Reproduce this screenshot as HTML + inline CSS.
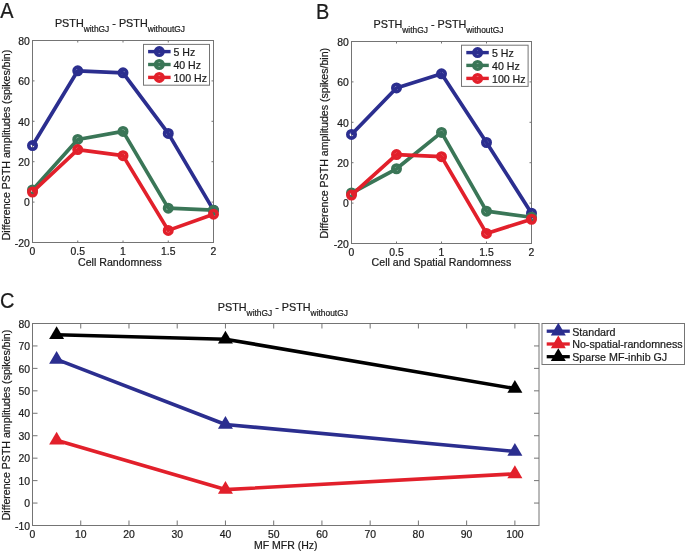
<!DOCTYPE html>
<html><head><meta charset="utf-8"><title>PSTH figure</title>
<style>
html,body{margin:0;padding:0;background:#ffffff;}
body{width:685px;height:554px;overflow:hidden;font-family:"Liberation Sans", sans-serif;}
svg{display:block;will-change:transform;}
text{stroke:#1c1c1c;stroke-width:0.22px;}
</style></head><body>
<svg width="685" height="554" viewBox="0 0 685 554" font-family='"Liberation Sans", sans-serif' fill="#1c1c1c">
<rect width="685" height="554" fill="#ffffff"/>
<text transform="translate(0.2,17.7) scale(0.94,1)" font-size="21.2">A</text>
<text x="54.9" y="27.2" font-size="10.8">PSTH<tspan font-size="8.4" dy="5.2">withGJ</tspan><tspan dy="-5.2" font-size="10.8"> - PSTH</tspan><tspan font-size="8.4" dy="5.2">withoutGJ</tspan></text>
<rect x="32.5" y="40.5" width="181" height="202" fill="none" stroke="#747474" stroke-width="1"/>
<line x1="32.5" y1="242.5" x2="32.5" y2="240.5" stroke="#747474" stroke-width="1"/>
<line x1="32.5" y1="40.5" x2="32.5" y2="42.5" stroke="#747474" stroke-width="1"/>
<line x1="77.75" y1="242.5" x2="77.75" y2="240.5" stroke="#747474" stroke-width="1"/>
<line x1="77.75" y1="40.5" x2="77.75" y2="42.5" stroke="#747474" stroke-width="1"/>
<line x1="123" y1="242.5" x2="123" y2="240.5" stroke="#747474" stroke-width="1"/>
<line x1="123" y1="40.5" x2="123" y2="42.5" stroke="#747474" stroke-width="1"/>
<line x1="168.25" y1="242.5" x2="168.25" y2="240.5" stroke="#747474" stroke-width="1"/>
<line x1="168.25" y1="40.5" x2="168.25" y2="42.5" stroke="#747474" stroke-width="1"/>
<line x1="213.5" y1="242.5" x2="213.5" y2="240.5" stroke="#747474" stroke-width="1"/>
<line x1="213.5" y1="40.5" x2="213.5" y2="42.5" stroke="#747474" stroke-width="1"/>
<line x1="32.5" y1="242.5" x2="34.5" y2="242.5" stroke="#747474" stroke-width="1"/>
<line x1="213.5" y1="242.5" x2="211.5" y2="242.5" stroke="#747474" stroke-width="1"/>
<line x1="32.5" y1="202.1" x2="34.5" y2="202.1" stroke="#747474" stroke-width="1"/>
<line x1="213.5" y1="202.1" x2="211.5" y2="202.1" stroke="#747474" stroke-width="1"/>
<line x1="32.5" y1="161.7" x2="34.5" y2="161.7" stroke="#747474" stroke-width="1"/>
<line x1="213.5" y1="161.7" x2="211.5" y2="161.7" stroke="#747474" stroke-width="1"/>
<line x1="32.5" y1="121.3" x2="34.5" y2="121.3" stroke="#747474" stroke-width="1"/>
<line x1="213.5" y1="121.3" x2="211.5" y2="121.3" stroke="#747474" stroke-width="1"/>
<line x1="32.5" y1="80.9" x2="34.5" y2="80.9" stroke="#747474" stroke-width="1"/>
<line x1="213.5" y1="80.9" x2="211.5" y2="80.9" stroke="#747474" stroke-width="1"/>
<line x1="32.5" y1="40.5" x2="34.5" y2="40.5" stroke="#747474" stroke-width="1"/>
<line x1="213.5" y1="40.5" x2="211.5" y2="40.5" stroke="#747474" stroke-width="1"/>
<text x="32.5" y="254.8" text-anchor="middle" font-size="10.4">0</text>
<text x="77.75" y="254.8" text-anchor="middle" font-size="10.4">0.5</text>
<text x="123" y="254.8" text-anchor="middle" font-size="10.4">1</text>
<text x="168.25" y="254.8" text-anchor="middle" font-size="10.4">1.5</text>
<text x="213.5" y="254.8" text-anchor="middle" font-size="10.4">2</text>
<text x="29.9" y="246.7" text-anchor="end" font-size="10.4">-20</text>
<text x="29.9" y="206.3" text-anchor="end" font-size="10.4">0</text>
<text x="29.9" y="165.9" text-anchor="end" font-size="10.4">20</text>
<text x="29.9" y="125.5" text-anchor="end" font-size="10.4">40</text>
<text x="29.9" y="85.1" text-anchor="end" font-size="10.4">60</text>
<text x="29.9" y="44.7" text-anchor="end" font-size="10.4">80</text>
<text transform="translate(9.8,145.0) rotate(-90)" text-anchor="middle" font-size="10.6">Difference PSTH amplitudes (spikes/bin)</text>
<text x="119.9" y="265.5" text-anchor="middle" font-size="10.6">Cell Randomness</text>
<polyline points="32.5,145.54 77.75,70.8 123,72.82 168.25,133.42 213.5,210.18" fill="none" stroke="#2b2e8f" stroke-width="3.7" stroke-linejoin="round" stroke-linecap="butt"/>
<circle cx="32.5" cy="145.54" r="3.7" fill="none" stroke="#2b2e8f" stroke-width="3.6"/>
<circle cx="77.75" cy="70.8" r="3.7" fill="none" stroke="#2b2e8f" stroke-width="3.6"/>
<circle cx="123" cy="72.82" r="3.7" fill="none" stroke="#2b2e8f" stroke-width="3.6"/>
<circle cx="168.25" cy="133.42" r="3.7" fill="none" stroke="#2b2e8f" stroke-width="3.6"/>
<circle cx="213.5" cy="210.18" r="3.7" fill="none" stroke="#2b2e8f" stroke-width="3.6"/>
<polyline points="32.5,189.98 77.75,139.48 123,131.4 168.25,208.16 213.5,210.18" fill="none" stroke="#3a7657" stroke-width="3.7" stroke-linejoin="round" stroke-linecap="butt"/>
<circle cx="32.5" cy="189.98" r="3.7" fill="none" stroke="#3a7657" stroke-width="3.6"/>
<circle cx="77.75" cy="139.48" r="3.7" fill="none" stroke="#3a7657" stroke-width="3.6"/>
<circle cx="123" cy="131.4" r="3.7" fill="none" stroke="#3a7657" stroke-width="3.6"/>
<circle cx="168.25" cy="208.16" r="3.7" fill="none" stroke="#3a7657" stroke-width="3.6"/>
<circle cx="213.5" cy="210.18" r="3.7" fill="none" stroke="#3a7657" stroke-width="3.6"/>
<polyline points="32.5,192 77.75,149.58 123,155.64 168.25,230.38 213.5,214.22" fill="none" stroke="#e2202b" stroke-width="3.7" stroke-linejoin="round" stroke-linecap="butt"/>
<circle cx="32.5" cy="192" r="3.7" fill="none" stroke="#e2202b" stroke-width="3.6"/>
<circle cx="77.75" cy="149.58" r="3.7" fill="none" stroke="#e2202b" stroke-width="3.6"/>
<circle cx="123" cy="155.64" r="3.7" fill="none" stroke="#e2202b" stroke-width="3.6"/>
<circle cx="168.25" cy="230.38" r="3.7" fill="none" stroke="#e2202b" stroke-width="3.6"/>
<circle cx="213.5" cy="214.22" r="3.7" fill="none" stroke="#e2202b" stroke-width="3.6"/>
<rect x="143.5" y="44.4" width="66" height="40.8" fill="#ffffff" stroke="#747474" stroke-width="1"/>
<line x1="148.1" y1="51.6" x2="170.6" y2="51.6" stroke="#2b2e8f" stroke-width="3.4"/>
<circle cx="159.3" cy="51.6" r="3.7" fill="none" stroke="#2b2e8f" stroke-width="3.6"/>
<text x="173.4" y="56" font-size="10.6">5 Hz</text>
<line x1="148.1" y1="64.5" x2="170.6" y2="64.5" stroke="#3a7657" stroke-width="3.4"/>
<circle cx="159.3" cy="64.5" r="3.7" fill="none" stroke="#3a7657" stroke-width="3.6"/>
<text x="173.4" y="68.9" font-size="10.6">40 Hz</text>
<line x1="148.1" y1="77.4" x2="170.6" y2="77.4" stroke="#e2202b" stroke-width="3.4"/>
<circle cx="159.3" cy="77.4" r="3.7" fill="none" stroke="#e2202b" stroke-width="3.6"/>
<text x="173.4" y="81.8" font-size="10.6">100 Hz</text>
<text transform="translate(316.1,18.8) scale(0.94,1)" font-size="21.2">B</text>
<text x="373.5" y="28" font-size="10.8">PSTH<tspan font-size="8.4" dy="5.2">withGJ</tspan><tspan dy="-5.2" font-size="10.8"> - PSTH</tspan><tspan font-size="8.4" dy="5.2">withoutGJ</tspan></text>
<rect x="351.5" y="41.5" width="180" height="202" fill="none" stroke="#747474" stroke-width="1"/>
<line x1="351.5" y1="243.5" x2="351.5" y2="241.5" stroke="#747474" stroke-width="1"/>
<line x1="351.5" y1="41.5" x2="351.5" y2="43.5" stroke="#747474" stroke-width="1"/>
<line x1="396.5" y1="243.5" x2="396.5" y2="241.5" stroke="#747474" stroke-width="1"/>
<line x1="396.5" y1="41.5" x2="396.5" y2="43.5" stroke="#747474" stroke-width="1"/>
<line x1="441.5" y1="243.5" x2="441.5" y2="241.5" stroke="#747474" stroke-width="1"/>
<line x1="441.5" y1="41.5" x2="441.5" y2="43.5" stroke="#747474" stroke-width="1"/>
<line x1="486.5" y1="243.5" x2="486.5" y2="241.5" stroke="#747474" stroke-width="1"/>
<line x1="486.5" y1="41.5" x2="486.5" y2="43.5" stroke="#747474" stroke-width="1"/>
<line x1="531.5" y1="243.5" x2="531.5" y2="241.5" stroke="#747474" stroke-width="1"/>
<line x1="531.5" y1="41.5" x2="531.5" y2="43.5" stroke="#747474" stroke-width="1"/>
<line x1="351.5" y1="243.5" x2="353.5" y2="243.5" stroke="#747474" stroke-width="1"/>
<line x1="531.5" y1="243.5" x2="529.5" y2="243.5" stroke="#747474" stroke-width="1"/>
<line x1="351.5" y1="203.1" x2="353.5" y2="203.1" stroke="#747474" stroke-width="1"/>
<line x1="531.5" y1="203.1" x2="529.5" y2="203.1" stroke="#747474" stroke-width="1"/>
<line x1="351.5" y1="162.7" x2="353.5" y2="162.7" stroke="#747474" stroke-width="1"/>
<line x1="531.5" y1="162.7" x2="529.5" y2="162.7" stroke="#747474" stroke-width="1"/>
<line x1="351.5" y1="122.3" x2="353.5" y2="122.3" stroke="#747474" stroke-width="1"/>
<line x1="531.5" y1="122.3" x2="529.5" y2="122.3" stroke="#747474" stroke-width="1"/>
<line x1="351.5" y1="81.9" x2="353.5" y2="81.9" stroke="#747474" stroke-width="1"/>
<line x1="531.5" y1="81.9" x2="529.5" y2="81.9" stroke="#747474" stroke-width="1"/>
<line x1="351.5" y1="41.5" x2="353.5" y2="41.5" stroke="#747474" stroke-width="1"/>
<line x1="531.5" y1="41.5" x2="529.5" y2="41.5" stroke="#747474" stroke-width="1"/>
<text x="351.5" y="255.8" text-anchor="middle" font-size="10.4">0</text>
<text x="396.5" y="255.8" text-anchor="middle" font-size="10.4">0.5</text>
<text x="441.5" y="255.8" text-anchor="middle" font-size="10.4">1</text>
<text x="486.5" y="255.8" text-anchor="middle" font-size="10.4">1.5</text>
<text x="531.5" y="255.8" text-anchor="middle" font-size="10.4">2</text>
<text x="348.9" y="247.7" text-anchor="end" font-size="10.4">-20</text>
<text x="348.9" y="207.3" text-anchor="end" font-size="10.4">0</text>
<text x="348.9" y="166.9" text-anchor="end" font-size="10.4">20</text>
<text x="348.9" y="126.5" text-anchor="end" font-size="10.4">40</text>
<text x="348.9" y="86.1" text-anchor="end" font-size="10.4">60</text>
<text x="348.9" y="45.7" text-anchor="end" font-size="10.4">80</text>
<text transform="translate(328.1,143.2) rotate(-90)" text-anchor="middle" font-size="10.6">Difference PSTH amplitudes (spikes/bin)</text>
<text x="441.4" y="266.4" text-anchor="middle" font-size="10.6">Cell and Spatial Randomness</text>
<polyline points="351.5,134.42 396.5,87.96 441.5,73.82 486.5,142.5 531.5,213.2" fill="none" stroke="#2b2e8f" stroke-width="3.7" stroke-linejoin="round" stroke-linecap="butt"/>
<circle cx="351.5" cy="134.42" r="3.7" fill="none" stroke="#2b2e8f" stroke-width="3.6"/>
<circle cx="396.5" cy="87.96" r="3.7" fill="none" stroke="#2b2e8f" stroke-width="3.6"/>
<circle cx="441.5" cy="73.82" r="3.7" fill="none" stroke="#2b2e8f" stroke-width="3.6"/>
<circle cx="486.5" cy="142.5" r="3.7" fill="none" stroke="#2b2e8f" stroke-width="3.6"/>
<circle cx="531.5" cy="213.2" r="3.7" fill="none" stroke="#2b2e8f" stroke-width="3.6"/>
<polyline points="351.5,193 396.5,168.76 441.5,132.4 486.5,211.18 531.5,217.24" fill="none" stroke="#3a7657" stroke-width="3.7" stroke-linejoin="round" stroke-linecap="butt"/>
<circle cx="351.5" cy="193" r="3.7" fill="none" stroke="#3a7657" stroke-width="3.6"/>
<circle cx="396.5" cy="168.76" r="3.7" fill="none" stroke="#3a7657" stroke-width="3.6"/>
<circle cx="441.5" cy="132.4" r="3.7" fill="none" stroke="#3a7657" stroke-width="3.6"/>
<circle cx="486.5" cy="211.18" r="3.7" fill="none" stroke="#3a7657" stroke-width="3.6"/>
<circle cx="531.5" cy="217.24" r="3.7" fill="none" stroke="#3a7657" stroke-width="3.6"/>
<polyline points="351.5,195.02 396.5,154.62 441.5,156.64 486.5,233.4 531.5,219.26" fill="none" stroke="#e2202b" stroke-width="3.7" stroke-linejoin="round" stroke-linecap="butt"/>
<circle cx="351.5" cy="195.02" r="3.7" fill="none" stroke="#e2202b" stroke-width="3.6"/>
<circle cx="396.5" cy="154.62" r="3.7" fill="none" stroke="#e2202b" stroke-width="3.6"/>
<circle cx="441.5" cy="156.64" r="3.7" fill="none" stroke="#e2202b" stroke-width="3.6"/>
<circle cx="486.5" cy="233.4" r="3.7" fill="none" stroke="#e2202b" stroke-width="3.6"/>
<circle cx="531.5" cy="219.26" r="3.7" fill="none" stroke="#e2202b" stroke-width="3.6"/>
<rect x="461.5" y="45.2" width="66.6" height="41.2" fill="#ffffff" stroke="#747474" stroke-width="1"/>
<line x1="466.3" y1="52.6" x2="488.8" y2="52.6" stroke="#2b2e8f" stroke-width="3.4"/>
<circle cx="477.6" cy="52.6" r="3.7" fill="none" stroke="#2b2e8f" stroke-width="3.6"/>
<text x="492" y="57" font-size="10.6">5 Hz</text>
<line x1="466.3" y1="65.4" x2="488.8" y2="65.4" stroke="#3a7657" stroke-width="3.4"/>
<circle cx="477.6" cy="65.4" r="3.7" fill="none" stroke="#3a7657" stroke-width="3.6"/>
<text x="492" y="69.8" font-size="10.6">40 Hz</text>
<line x1="466.3" y1="78.4" x2="488.8" y2="78.4" stroke="#e2202b" stroke-width="3.4"/>
<circle cx="477.6" cy="78.4" r="3.7" fill="none" stroke="#e2202b" stroke-width="3.6"/>
<text x="492" y="82.8" font-size="10.6">100 Hz</text>
<text transform="translate(0.0,308.0) scale(0.94,1)" font-size="21.2">C</text>
<text x="217.8" y="310.8" font-size="10.8">PSTH<tspan font-size="8.4" dy="5.2">withGJ</tspan><tspan dy="-5.2" font-size="10.8"> - PSTH</tspan><tspan font-size="8.4" dy="5.2">withoutGJ</tspan></text>
<rect x="32.5" y="323.5" width="506.5" height="202" fill="none" stroke="#747474" stroke-width="1"/>
<line x1="32.5" y1="525.5" x2="32.5" y2="520.5" stroke="#747474" stroke-width="1"/>
<line x1="32.5" y1="323.5" x2="32.5" y2="328.5" stroke="#747474" stroke-width="1"/>
<line x1="80.74" y1="525.5" x2="80.74" y2="520.5" stroke="#747474" stroke-width="1"/>
<line x1="80.74" y1="323.5" x2="80.74" y2="328.5" stroke="#747474" stroke-width="1"/>
<line x1="128.98" y1="525.5" x2="128.98" y2="520.5" stroke="#747474" stroke-width="1"/>
<line x1="128.98" y1="323.5" x2="128.98" y2="328.5" stroke="#747474" stroke-width="1"/>
<line x1="177.21" y1="525.5" x2="177.21" y2="520.5" stroke="#747474" stroke-width="1"/>
<line x1="177.21" y1="323.5" x2="177.21" y2="328.5" stroke="#747474" stroke-width="1"/>
<line x1="225.45" y1="525.5" x2="225.45" y2="520.5" stroke="#747474" stroke-width="1"/>
<line x1="225.45" y1="323.5" x2="225.45" y2="328.5" stroke="#747474" stroke-width="1"/>
<line x1="273.69" y1="525.5" x2="273.69" y2="520.5" stroke="#747474" stroke-width="1"/>
<line x1="273.69" y1="323.5" x2="273.69" y2="328.5" stroke="#747474" stroke-width="1"/>
<line x1="321.93" y1="525.5" x2="321.93" y2="520.5" stroke="#747474" stroke-width="1"/>
<line x1="321.93" y1="323.5" x2="321.93" y2="328.5" stroke="#747474" stroke-width="1"/>
<line x1="370.17" y1="525.5" x2="370.17" y2="520.5" stroke="#747474" stroke-width="1"/>
<line x1="370.17" y1="323.5" x2="370.17" y2="328.5" stroke="#747474" stroke-width="1"/>
<line x1="418.4" y1="525.5" x2="418.4" y2="520.5" stroke="#747474" stroke-width="1"/>
<line x1="418.4" y1="323.5" x2="418.4" y2="328.5" stroke="#747474" stroke-width="1"/>
<line x1="466.64" y1="525.5" x2="466.64" y2="520.5" stroke="#747474" stroke-width="1"/>
<line x1="466.64" y1="323.5" x2="466.64" y2="328.5" stroke="#747474" stroke-width="1"/>
<line x1="514.88" y1="525.5" x2="514.88" y2="520.5" stroke="#747474" stroke-width="1"/>
<line x1="514.88" y1="323.5" x2="514.88" y2="328.5" stroke="#747474" stroke-width="1"/>
<line x1="32.5" y1="525.5" x2="37.5" y2="525.5" stroke="#747474" stroke-width="1"/>
<line x1="539" y1="525.5" x2="534" y2="525.5" stroke="#747474" stroke-width="1"/>
<line x1="32.5" y1="503.06" x2="37.5" y2="503.06" stroke="#747474" stroke-width="1"/>
<line x1="539" y1="503.06" x2="534" y2="503.06" stroke="#747474" stroke-width="1"/>
<line x1="32.5" y1="480.61" x2="37.5" y2="480.61" stroke="#747474" stroke-width="1"/>
<line x1="539" y1="480.61" x2="534" y2="480.61" stroke="#747474" stroke-width="1"/>
<line x1="32.5" y1="458.17" x2="37.5" y2="458.17" stroke="#747474" stroke-width="1"/>
<line x1="539" y1="458.17" x2="534" y2="458.17" stroke="#747474" stroke-width="1"/>
<line x1="32.5" y1="435.72" x2="37.5" y2="435.72" stroke="#747474" stroke-width="1"/>
<line x1="539" y1="435.72" x2="534" y2="435.72" stroke="#747474" stroke-width="1"/>
<line x1="32.5" y1="413.28" x2="37.5" y2="413.28" stroke="#747474" stroke-width="1"/>
<line x1="539" y1="413.28" x2="534" y2="413.28" stroke="#747474" stroke-width="1"/>
<line x1="32.5" y1="390.83" x2="37.5" y2="390.83" stroke="#747474" stroke-width="1"/>
<line x1="539" y1="390.83" x2="534" y2="390.83" stroke="#747474" stroke-width="1"/>
<line x1="32.5" y1="368.39" x2="37.5" y2="368.39" stroke="#747474" stroke-width="1"/>
<line x1="539" y1="368.39" x2="534" y2="368.39" stroke="#747474" stroke-width="1"/>
<line x1="32.5" y1="345.94" x2="37.5" y2="345.94" stroke="#747474" stroke-width="1"/>
<line x1="539" y1="345.94" x2="534" y2="345.94" stroke="#747474" stroke-width="1"/>
<line x1="32.5" y1="323.5" x2="37.5" y2="323.5" stroke="#747474" stroke-width="1"/>
<line x1="539" y1="323.5" x2="534" y2="323.5" stroke="#747474" stroke-width="1"/>
<text x="32.5" y="538.1" text-anchor="middle" font-size="10.4">0</text>
<text x="80.74" y="538.1" text-anchor="middle" font-size="10.4">10</text>
<text x="128.98" y="538.1" text-anchor="middle" font-size="10.4">20</text>
<text x="177.21" y="538.1" text-anchor="middle" font-size="10.4">30</text>
<text x="225.45" y="538.1" text-anchor="middle" font-size="10.4">40</text>
<text x="273.69" y="538.1" text-anchor="middle" font-size="10.4">50</text>
<text x="321.93" y="538.1" text-anchor="middle" font-size="10.4">60</text>
<text x="370.17" y="538.1" text-anchor="middle" font-size="10.4">70</text>
<text x="418.4" y="538.1" text-anchor="middle" font-size="10.4">80</text>
<text x="466.64" y="538.1" text-anchor="middle" font-size="10.4">90</text>
<text x="514.88" y="538.1" text-anchor="middle" font-size="10.4">100</text>
<text x="30.1" y="529.7" text-anchor="end" font-size="10.4">-10</text>
<text x="30.1" y="507.26" text-anchor="end" font-size="10.4">0</text>
<text x="30.1" y="484.81" text-anchor="end" font-size="10.4">10</text>
<text x="30.1" y="462.37" text-anchor="end" font-size="10.4">20</text>
<text x="30.1" y="439.92" text-anchor="end" font-size="10.4">30</text>
<text x="30.1" y="417.48" text-anchor="end" font-size="10.4">40</text>
<text x="30.1" y="395.03" text-anchor="end" font-size="10.4">50</text>
<text x="30.1" y="372.59" text-anchor="end" font-size="10.4">60</text>
<text x="30.1" y="350.14" text-anchor="end" font-size="10.4">70</text>
<text x="30.1" y="327.7" text-anchor="end" font-size="10.4">80</text>
<text transform="translate(9.8,425.0) rotate(-90)" text-anchor="middle" font-size="10.6">Difference PSTH amplitudes (spikes/bin)</text>
<text x="285.8" y="548.5" text-anchor="middle" font-size="10.5">MF MFR (Hz)</text>
<polyline points="56.62,359.41 225.45,424.5 514.88,451.43" fill="none" stroke="#2b2e8f" stroke-width="3.6" stroke-linejoin="round" stroke-linecap="butt"/>
<polygon points="56.62,350.88 49.12,363.68 64.12,363.68" fill="#2b2e8f"/>
<polygon points="225.45,415.97 217.95,428.77 232.95,428.77" fill="#2b2e8f"/>
<polygon points="514.88,442.9 507.38,455.7 522.38,455.7" fill="#2b2e8f"/>
<polyline points="56.62,440.21 225.45,489.59 514.88,473.88" fill="none" stroke="#e2202b" stroke-width="3.6" stroke-linejoin="round" stroke-linecap="butt"/>
<polygon points="56.62,431.68 49.12,444.48 64.12,444.48" fill="#e2202b"/>
<polygon points="225.45,481.06 217.95,493.86 232.95,493.86" fill="#e2202b"/>
<polygon points="514.88,465.34 507.38,478.14 522.38,478.14" fill="#e2202b"/>
<polyline points="56.62,334.72 225.45,339.21 514.88,388.59" fill="none" stroke="#000000" stroke-width="3.6" stroke-linejoin="round" stroke-linecap="butt"/>
<polygon points="56.62,326.19 49.12,338.99 64.12,338.99" fill="#000000"/>
<polygon points="225.45,330.68 217.95,343.48 232.95,343.48" fill="#000000"/>
<polygon points="514.88,380.06 507.38,392.86 522.38,392.86" fill="#000000"/>
<rect x="542" y="323.5" width="142.5" height="41" fill="#ffffff" stroke="#747474" stroke-width="1"/>
<line x1="546.7" y1="331.2" x2="569.8" y2="331.2" stroke="#2b2e8f" stroke-width="3.3"/>
<polygon points="558.3,322.67 550.8,335.47 565.8,335.47" fill="#2b2e8f"/>
<text x="572.2" y="335.5" font-size="10.7">Standard</text>
<line x1="546.7" y1="344" x2="569.8" y2="344" stroke="#e2202b" stroke-width="3.3"/>
<polygon points="558.3,335.47 550.8,348.27 565.8,348.27" fill="#e2202b"/>
<text x="572.2" y="348.3" font-size="10.7">No-spatial-randomness</text>
<line x1="546.7" y1="356.7" x2="569.8" y2="356.7" stroke="#000000" stroke-width="3.3"/>
<polygon points="558.3,348.17 550.8,360.97 565.8,360.97" fill="#000000"/>
<text x="572.2" y="361" font-size="10.7">Sparse MF-inhib GJ</text>
</svg>
</body></html>
